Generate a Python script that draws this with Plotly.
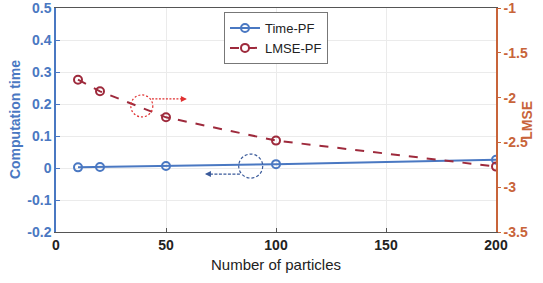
import plotly.graph_objects as go

particles = [10, 20, 50, 100, 200]
time_pf = [0.002, 0.003, 0.006, 0.012, 0.026]
lmse_pf = [-1.80, -1.93, -2.22, -2.48, -2.77]

x_ticks = [0, 50, 100, 150, 200]
y_ticks = [-0.2, -0.1, 0, 0.1, 0.2, 0.3, 0.4, 0.5]
y2_ticks = [-3.5, -3, -2.5, -2, -1.5, -1]

BLUE = "#4a78c2"
DARKRED = "#9e2a3c"
ORANGE = "#c8643a"
ARED = "#e03030"
ABLUE = "#3a5a9a"
FONT = "Liberation Sans"

fig = go.Figure()
fig.add_trace(go.Scatter(x=particles, y=time_pf, name="Time-PF", mode="lines+markers",
                         line=dict(color=BLUE, width=2),
                         marker=dict(symbol="circle-open", size=8, color=BLUE, line=dict(width=2))))
fig.add_trace(go.Scatter(x=particles, y=lmse_pf, name="LMSE-PF", mode="lines+markers", yaxis="y2",
                         line=dict(color=DARKRED, width=2, dash="dash"),
                         marker=dict(symbol="circle-open", size=8, color=DARKRED, line=dict(width=2))))

# annotation circles and arrows
fig.add_shape(type="circle", xref="x", yref="y", xsizemode="pixel", ysizemode="pixel",
              xanchor=39, yanchor=0.194, x0=-11, x1=11, y0=-11, y1=11,
              line=dict(color=ARED, width=1.2, dash="2px,2px"))
fig.add_shape(type="line", xref="x", yref="y", x0=43.6, x1=57.5, y0=0.216, y1=0.216,
              line=dict(color=ARED, width=1.2, dash="2px,1.5px"))
fig.add_annotation(x=59.5, y=0.216, ax=-5, ay=0, xref="x", yref="y",
                   showarrow=True, arrowhead=2, arrowsize=1, arrowwidth=1.2, arrowcolor=ARED, text="")
fig.add_shape(type="circle", xref="x", yref="y", xsizemode="pixel", ysizemode="pixel",
              xanchor=88.5, yanchor=0.006, x0=-12, x1=12, y0=-12, y1=12,
              line=dict(color=ABLUE, width=1.2, dash="3px,2px"))
fig.add_shape(type="line", xref="x", yref="y", x0=83.6, x1=69.5, y0=-0.019, y1=-0.019,
              line=dict(color=ABLUE, width=1.2, dash="3px,1.5px"))
fig.add_annotation(x=67.7, y=-0.019, ax=5, ay=0, xref="x", yref="y",
                   showarrow=True, arrowhead=2, arrowsize=1, arrowwidth=1.2, arrowcolor=ABLUE, text="")

# axis titles
fig.add_annotation(text="Number of particles", xref="paper", yref="paper", x=0.5, y=-0.145,
                   xanchor="center", yanchor="middle", showarrow=False,
                   font=dict(family=FONT, size=15, color="#222"))
fig.add_annotation(text="Computation time", xref="paper", yref="paper", x=-0.093, y=0.5,
                   xanchor="center", yanchor="middle", showarrow=False, textangle=-90,
                   font=dict(family=FONT, size=14, color=BLUE, weight="bold"))
fig.add_annotation(text="LMSE", xref="paper", yref="paper", x=1.07, y=0.5,
                   xanchor="center", yanchor="middle", showarrow=False, textangle=-90,
                   font=dict(family=FONT, size=14, color=ORANGE, weight="bold"))

fig.update_layout(
    width=543, height=283,
    margin=dict(l=56, r=47, t=8, b=51),
    plot_bgcolor="white", paper_bgcolor="white",
    font=dict(family=FONT, size=13, color="#222"),
    xaxis=dict(range=[0, 200], tickvals=x_ticks, showgrid=True, gridcolor="#ebebeb",
               showline=True, linecolor="#555", linewidth=1.2, mirror=True,
               ticks="inside", ticklen=4, tickcolor="#555", automargin=False,
               tickfont=dict(family=FONT, size=14, color="#222", weight="bold"),
               zeroline=False),
    yaxis=dict(range=[-0.2, 0.5], tickvals=y_ticks, ticktext=["-0.2", "-0.1", "0", "0.1", "0.2", "0.3", "0.4", "0.5"],
               showgrid=True, gridcolor="#ebebeb", showline=True, linecolor=BLUE, linewidth=1.5,
               ticks="inside", ticklen=4, tickcolor=BLUE, automargin=False, ticklabeloverflow="allow",
               tickfont=dict(family=FONT, size=14, color=BLUE, weight="bold"),
               zeroline=False),
    yaxis2=dict(range=[-3.5, -1], tickvals=y2_ticks, ticktext=["-3.5", "-3", "-2.5", "-2", "-1.5", "-1"],
                overlaying="y", side="right", showgrid=False, showline=True, linecolor=ORANGE, linewidth=1.5,
                ticks="outside", ticklen=3, tickcolor=ORANGE, automargin=False, ticklabeloverflow="allow",
                tickfont=dict(family=FONT, size=14, color=ORANGE, weight="bold"),
                zeroline=False),
    legend=dict(x=0.5, y=0.982, xanchor="center", yanchor="top", bgcolor="white",
                bordercolor="#777", borderwidth=1, font=dict(family=FONT, size=13, color="#222"),
                tracegroupgap=0, itemwidth=30),
    showlegend=True,
)

fig.write_html("out.html", config={"displayModeBar": False},
               post_script="document.body.style.margin='0';document.body.style.overflow='hidden';")
